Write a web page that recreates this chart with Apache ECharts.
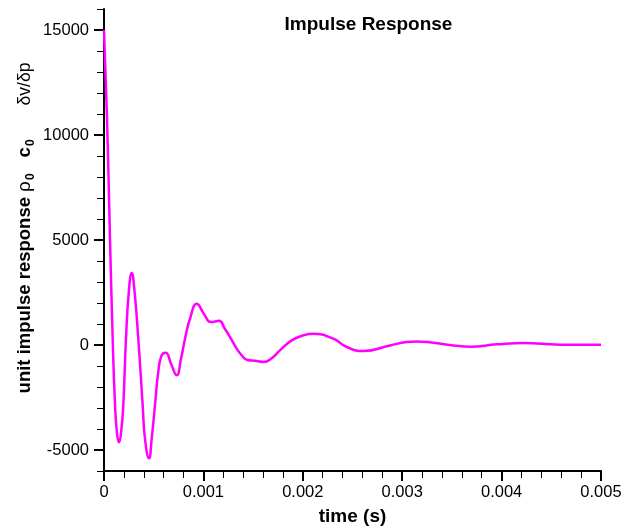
<!DOCTYPE html>
<html>
<head>
<meta charset="utf-8">
<script src="https://cdn.jsdelivr.net/npm/echarts@6/dist/echarts.min.js"></script>
<style>
html,body{margin:0;padding:0;background:#fff;}
#chart{width:631px;height:531px;}
</style>
</head>
<body>
<div id="chart"></div>
<script>
var timeS = [0, 0.00003, 0.0000604, 0.0000875, 0.000111, 0.000131, 0.000151, 0.000171, 0.000194, 0.000221,
  0.000252, 0.000279, 0.000305, 0.000345, 0.000389, 0.000412, 0.000453, 0.00048, 0.000513, 0.000546,
  0.00058, 0.000621, 0.000674, 0.000731, 0.000775, 0.000815, 0.000865, 0.000933, 0.001006, 0.001076,
  0.001157, 0.001217, 0.001268, 0.001335, 0.001388, 0.001436, 0.001536, 0.001603, 0.00169, 0.00177,
  0.001888, 0.002, 0.002106, 0.002307, 0.002442, 0.002609, 0.002877, 0.003045, 0.003146, 0.003514,
  0.003682, 0.003951, 0.004218, 0.004588, 0.005];
var response = [15000, 10850, 5030, 300, -2865, -4210, -4635, -4210, -2865, 300,
  2670, 3430, 2670, 300, -2865, -4445, -5394, -4445, -2865, -1280,
  -490, -365, -890, -1442, -650, 300, 1250, 1960, 1480, 1090,
  1150, 760, 380, -175, -510, -700, -760, -810, -620, -255,
  220, 450, 535, 300, -95, -285, -20, 140, 170, -20,
  -80, 30, 95, 15, 10];
var yMajorTicks = [-5000, 0, 5000, 10000, 15000];
var xTickLabels = ['0', '0.001', '0.002', '0.003', '0.004', '0.005'];

var seriesData = timeS.map(function (t, i) { return [t, response[i]]; });
var FONT = '"Liberation Sans", Arial, sans-serif';

var chart = echarts.init(document.getElementById('chart'), null, {renderer: 'canvas'});
chart.setOption({
  animation: false,
  backgroundColor: '#ffffff',
  textStyle: {fontFamily: FONT},
  grid: {left: 104, right: 30, top: 9, bottom: 59, containLabel: false},
  graphic: [{
    type: 'text', x: 368.5, y: 25,
    style: {text: 'Impulse Response', fontFamily: FONT, fontWeight: 'bold', fontSize: 19,
      fill: '#000', textAlign: 'center', textVerticalAlign: 'middle'}
  }],
  xAxis: {
    type: 'value', min: 0, max: 0.005, interval: 0.001,
    name: 'time (s)', nameLocation: 'middle', nameGap: 36,
    nameTextStyle: {fontFamily: FONT, fontWeight: 'bold', fontSize: 19, color: '#000'},
    axisLine: {show: true, onZero: false, lineStyle: {color: '#000', width: 2}},
    axisTick: {show: true, length: 10, lineStyle: {color: '#000', width: 2}},
    minorTick: {show: true, splitNumber: 5, length: 7, lineStyle: {color: '#000', width: 1}},
    splitLine: {show: false},
    axisLabel: {fontFamily: FONT, fontSize: 16.5, color: '#000', margin: 13,
      formatter: function (v) { return xTickLabels[Math.round(v / 0.001)]; }}
  },
  yAxis: [{
    type: 'value', min: -6000, max: 16000, interval: 1000, position: 'left',
    axisLine: {show: true, onZero: false, lineStyle: {color: '#000', width: 2}},
    axisTick: {show: true, length: 7, lineStyle: {color: '#000', width: 1}},
    axisLabel: {show: false},
    splitLine: {show: false}
  }, {
    type: 'value', min: -6000, max: 16000, position: 'left',
    axisLine: {show: false, onZero: false},
    axisTick: {show: true, length: 10, customValues: yMajorTicks, lineStyle: {color: '#000', width: 2}},
    axisLabel: {fontFamily: FONT, fontSize: 16.5, color: '#000', margin: 15, customValues: yMajorTicks,
      formatter: function (v) { return String(v); }},
    splitLine: {show: false},
    name: '{b|unit impulse response }{r|ρ}{s|0}{w1| }{b|c}{s|0}{w2| }{n|δv/δp}',
    nameLocation: 'middle', nameGap: 67, nameRotate: 90, nameMoveOverlap: false,
    nameTextStyle: {
      padding: [0, 0, 0, 24],
      rich: {
        b: {fontFamily: FONT, fontWeight: 'bold', fontSize: 18.5, color: '#000', lineHeight: 24},
        r: {fontFamily: FONT, fontWeight: 'normal', fontSize: 19, color: '#000', lineHeight: 24},
        n: {fontFamily: FONT, fontWeight: 'normal', fontSize: 17.5, color: '#000', lineHeight: 24},
        s: {fontFamily: FONT, fontWeight: 'bold', fontSize: 12, color: '#000', lineHeight: 24, verticalAlign: 'bottom', padding: [0, 0, 0, 1]},
        w1: {fontSize: 10, width: 16, lineHeight: 24},
        w2: {fontSize: 10, width: 34, lineHeight: 24}
      }
    }
  }],
  series: [{
    type: 'line', data: seriesData, xAxisIndex: 0, yAxisIndex: 0,
    showSymbol: false, smooth: 0.5,
    lineStyle: {color: '#ff00ff', width: 2.5},
    clip: true
  }]
});
</script>
</body>
</html>
